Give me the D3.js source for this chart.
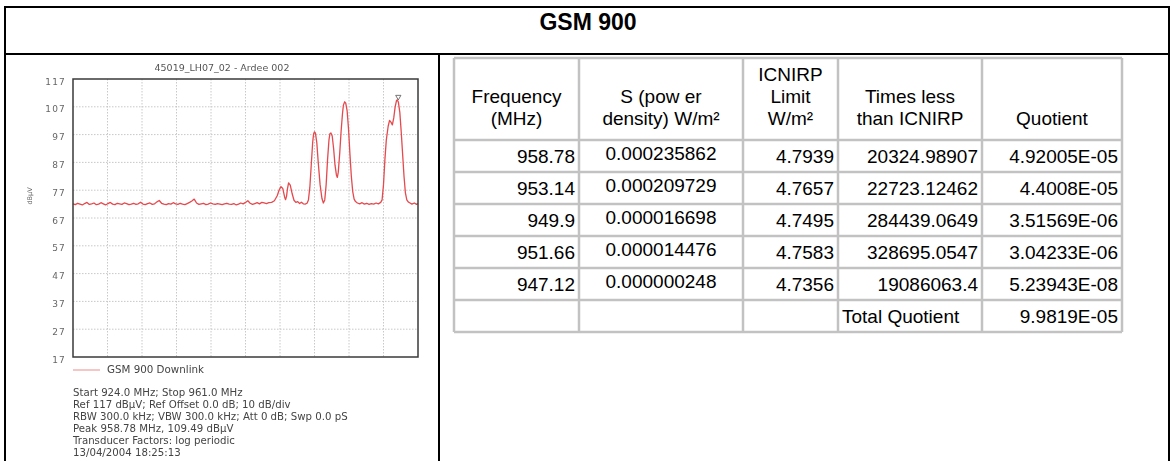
<!DOCTYPE html>
<html>
<head>
<meta charset="utf-8">
<script src="https://cdn.jsdelivr.net/npm/d3@7"></script>
<style>
  body { margin: 0; background: #fff; }
  svg { display: block; }
</style>
</head>
<body>
<svg id="chart" width="1171" height="461"></svg>
<script>
// ---- data ----
const pageTitle = "GSM 900";
const plotTitle = "45019_LH07_02 - Ardee 002";
const yTicks = [117, 107, 97, 87, 77, 67, 57, 47, 37, 27, 17];
const freqRange = [924.0, 961.0];
const legendLabel = "GSM 900 Downlink";
const infoLines = [
    "Start 924.0 MHz; Stop 961.0 MHz",
    "Ref 117 dBµV; Ref Offset 0.0 dB; 10 dB/div",
    "RBW 300.0 kHz; VBW 300.0 kHz; Att 0 dB; Swp 0.0 pS",
    "Peak 958.78 MHz, 109.49 dBµV",
    "Transducer Factors: log periodic",
    "13/04/2004 18:25:13"
];
const peakMarker = [958.78, 109.49];

// spectrum trace, [MHz, dBµV]
const trace = [
    [924.00,72.1],[924.25,71.8],[924.50,72.3],[924.75,72.0],[925.00,71.7],[925.25,72.2],[925.50,72.6],[925.75,71.9],
    [926.00,72.1],[926.25,72.4],[926.50,71.8],[926.75,72.0],[927.00,72.5],[927.25,72.1],[927.50,71.7],[927.75,72.2],
    [928.00,72.6],[928.25,72.0],[928.50,71.8],[928.75,72.3],[929.00,72.1],[929.25,71.9],[929.50,72.4],[929.75,72.2],
    [930.00,71.8],[930.25,72.0],[930.50,72.3],[930.75,71.9],[931.00,72.1],[931.25,72.7],[931.50,72.0],[931.75,71.8],
    [932.00,72.2],[932.25,72.4],[932.50,71.9],[932.75,72.1],[933.00,72.8],[933.25,73.3],[933.50,72.3],[933.75,72.0],
    [934.00,71.8],[934.25,72.2],[934.50,72.0],[934.75,72.5],[935.00,72.1],[935.25,71.9],[935.50,72.3],[935.75,72.0],
    [936.00,71.8],[936.25,72.2],[936.50,72.6],[936.75,73.1],[937.00,73.8],[937.25,72.4],[937.50,71.9],[937.75,72.1],
    [938.00,72.3],[938.25,71.8],[938.50,72.0],[938.75,72.4],[939.00,72.1],[939.25,71.9],[939.50,72.2],[939.75,72.0],
    [940.00,71.8],[940.25,72.1],[940.50,72.3],[940.75,72.0],[941.00,71.9],[941.25,72.2],[941.50,71.7],[941.75,72.0],
    [942.00,72.4],[942.25,72.1],[942.50,72.6],[942.75,73.2],[943.00,72.3],[943.25,71.9],[943.50,72.2],[943.75,72.5],
    [944.00,72.1],[944.25,72.6],[944.50,72.4],[944.75,72.2],[945.00,72.5],[945.30,72.6],[945.60,73.2],[945.90,75.0],
    [946.10,77.0],[946.30,78.3],[946.50,77.6],[946.70,74.5],[946.80,73.6],[946.90,74.8],[947.00,77.5],[947.12,79.6],
    [947.30,78.8],[947.50,75.8],[947.70,73.4],[947.90,72.6],[948.10,72.9],[948.30,72.2],[948.50,72.7],[948.70,72.1],
    [948.90,72.0],[949.10,72.3],[949.25,73.5],[949.40,78.0],[949.55,86.0],[949.70,94.0],[949.80,97.2],[949.90,98.0],
    [950.00,97.5],[950.15,94.0],[950.30,87.0],[950.50,79.0],[950.70,74.0],[950.85,72.4],[951.00,73.5],[951.15,79.0],
    [951.30,88.0],[951.45,95.0],[951.55,97.3],[951.66,97.6],[951.80,96.5],[951.95,92.0],[952.10,86.0],[952.25,82.5],
    [952.35,81.6],[952.45,83.5],[952.60,90.0],[952.75,98.0],[952.90,104.5],[953.00,107.6],[953.14,108.8],[953.25,108.3],
    [953.40,105.5],[953.55,99.0],[953.70,90.0],[953.85,82.0],[954.00,76.5],[954.15,73.8],[954.30,72.9],[954.50,72.4],
    [954.75,72.1],[955.00,72.5],[955.25,72.0],[955.50,72.3],[955.75,71.9],[956.00,72.2],[956.25,72.0],[956.50,72.4],
    [956.75,72.1],[957.00,72.6],[957.15,73.5],[957.30,79.0],[957.45,88.0],[957.60,95.0],[957.80,100.0],[957.95,102.1],
    [958.10,101.5],[958.25,100.5],[958.40,103.0],[958.55,107.0],[958.70,109.3],[958.78,109.49],[958.90,108.6],[959.05,105.0],
    [959.20,98.0],[959.35,90.0],[959.50,82.0],[959.65,76.0],[959.80,73.5],[959.95,72.8],[960.10,72.5],[960.35,72.0],
    [960.60,72.4],[960.85,71.9],[961.00,72.2]
];

// table
const headers = [
    ["Frequency", "(MHz)"],
    ["S (pow er", "density) W/m²"],
    ["ICNIRP", "Limit", "W/m²"],
    ["Times less", "than ICNIRP"],
    ["Quotient"]
];
const frequencies = ["958.78", "953.14", "949.9", "951.66", "947.12"];
const powerDensity = ["0.000235862", "0.000209729", "0.000016698", "0.000014476", "0.000000248"];
const icnirpLimit = ["4.7939", "4.7657", "4.7495", "4.7583", "4.7356"];
const timesLess = ["20324.98907", "22723.12462", "284439.0649", "328695.0547", "19086063.4"];
const quotients = ["4.92005E-05", "4.4008E-05", "3.51569E-06", "3.04233E-06", "5.23943E-08"];
const totalLabel = "Total Quotient";
const totalQuotient = "9.9819E-05";

// ---- drawing ----
const svg = d3.select("#chart");
const chartFont = "DejaVu Sans, Verdana, sans-serif";
const tableFont = "Liberation Sans, Arial, sans-serif";

// the spectrum is a scanned bitmap in the original, soften it a little
svg.append("defs").append("filter")
    .attr("id", "soft")
    .append("feGaussianBlur").attr("stdDeviation", 0.3);

// outer frame
svg.append("rect")
    .attr("x", 5).attr("y", 7)
    .attr("width", 1164).attr("height", 480)
    .attr("fill", "none").attr("stroke", "#000").attr("stroke-width", 2);
svg.append("line")
    .attr("x1", 5).attr("x2", 1169).attr("y1", 54).attr("y2", 54)
    .attr("stroke", "#000").attr("stroke-width", 2);
svg.append("line")
    .attr("x1", 439).attr("x2", 439).attr("y1", 54).attr("y2", 470)
    .attr("stroke", "#000").attr("stroke-width", 2);

svg.append("text")
    .attr("x", 588).attr("y", 30)
    .attr("text-anchor", "middle")
    .style("font-family", tableFont)
    .style("font-weight", "bold")
    .style("font-size", "23px")
    .text(pageTitle);

// spectrum plot
const plotLeft = 73, plotRight = 418, plotTop = 79, plotBottom = 357;
const x = d3.scaleLinear().domain(freqRange).range([plotLeft, plotRight]);
const y = d3.scaleLinear().domain([d3.min(yTicks), d3.max(yTicks)]).range([plotBottom, plotTop]);

const plot = svg.append("g").attr("filter", "url(#soft)");

plot.append("text")
    .attr("x", 222).attr("y", 71)
    .attr("text-anchor", "middle")
    .style("font-family", chartFont).style("font-size", "9.5px")
    .attr("fill", "#555")
    .text(plotTitle);

const xGrid = d3.range(1, 10).map(i => freqRange[0] + i * (freqRange[1] - freqRange[0]) / 10);

plot.append("g").selectAll("line")
    .data(yTicks.slice(1, -1))
    .join("line")
    .attr("x1", plotLeft).attr("x2", plotRight)
    .attr("y1", d => y(d)).attr("y2", d => y(d))
    .attr("stroke", "#c8c8c8").attr("stroke-dasharray", "1.5,1.5");

plot.append("g").selectAll("line")
    .data(xGrid)
    .join("line")
    .attr("x1", d => x(d)).attr("x2", d => x(d))
    .attr("y1", plotTop).attr("y2", plotBottom)
    .attr("stroke", "#c8c8c8").attr("stroke-dasharray", "1.5,1.5");

plot.append("g").selectAll("text")
    .data(yTicks)
    .join("text")
    .attr("x", 66)
    .attr("y", d => y(d) + 3)
    .attr("text-anchor", "end")
    .attr("dominant-baseline", "middle")
    .style("font-family", chartFont).style("font-size", "9px")
    .style("letter-spacing", "1.2px")
    .attr("fill", "#666")
    .text(d => d);

plot.append("text")
    .attr("transform", "translate(32,196) rotate(-90)")
    .attr("text-anchor", "middle")
    .style("font-family", chartFont).style("font-size", "6.5px")
    .attr("fill", "#666")
    .text("dBµV");

plot.append("path")
    .datum(trace)
    .attr("fill", "none")
    .attr("stroke", "#e54a4e")
    .attr("stroke-width", 1.3)
    .attr("stroke-linejoin", "round")
    .attr("d", d3.line().x(d => x(d[0])).y(d => y(d[1])));

plot.append("rect")
    .attr("x", plotLeft).attr("y", plotTop)
    .attr("width", plotRight - plotLeft).attr("height", plotBottom - plotTop)
    .attr("fill", "none").attr("stroke", "#3a3a3a").attr("stroke-width", 1.5);

plot.append("path")
    .attr("transform", `translate(${x(peakMarker[0]) + 1},${y(peakMarker[1]) - 3})rotate(180)`)
    .attr("d", d3.symbol(d3.symbolTriangle, 12)())
    .attr("fill", "none").attr("stroke", "#555").attr("stroke-width", 0.8);

// legend
plot.append("line")
    .attr("x1", plotLeft).attr("x2", 100).attr("y1", 370).attr("y2", 370)
    .attr("stroke", "#f0a0a0").attr("stroke-width", 1.2);
plot.append("text")
    .attr("x", 107).attr("y", 370)
    .attr("dominant-baseline", "middle")
    .style("font-family", chartFont).style("font-size", "10.3px")
    .attr("fill", "#444")
    .text(legendLabel);

plot.append("g").selectAll("text")
    .data(infoLines)
    .join("text")
    .attr("x", plotLeft)
    .attr("y", (d, i) => 393 + i * 12)
    .attr("dominant-baseline", "middle")
    .style("font-family", chartFont).style("font-size", "10.2px")
    .attr("fill", "#444")
    .text(d => d);

// table
const colEdges = [454, 579, 743, 838, 982, 1122];
const tableTop = 58, headerBottom = 140, rowH = 32;
const rows = frequencies.map((f, i) => [f, powerDensity[i], icnirpLimit[i], timesLess[i], quotients[i]]);
rows.push(["", "", "", totalLabel, totalQuotient]);
const rowEdges = [tableTop, headerBottom].concat(rows.map((r, i) => headerBottom + (i + 1) * rowH));

const table = svg.append("g");
table.append("g").selectAll("line")
    .data(rowEdges)
    .join("line")
    .attr("x1", colEdges[0]).attr("x2", colEdges[colEdges.length - 1])
    .attr("y1", d => d).attr("y2", d => d)
    .attr("stroke", "#c2c2c2").attr("stroke-width", 2.5);
table.append("g").selectAll("line")
    .data(colEdges)
    .join("line")
    .attr("x1", d => d).attr("x2", d => d)
    .attr("y1", tableTop).attr("y2", rowEdges[rowEdges.length - 1])
    .attr("stroke", "#c2c2c2").attr("stroke-width", 2.5);

const textStyle = sel => sel.style("font-family", tableFont).style("font-size", "19px").attr("fill", "#000");

headers.forEach((lines, c) => {
    const cx = (colEdges[c] + colEdges[c + 1]) / 2;
    lines.forEach((t, j) => {
        table.append("text")
            .attr("x", cx)
            .attr("y", 125 - (lines.length - 1 - j) * 22)
            .attr("text-anchor", "middle")
            .call(textStyle)
            .text(t);
    });
});

rows.forEach((r, i) => {
    const rowTop = headerBottom + i * rowH;
    r.forEach((t, c) => {
        if (!t) return;
        const centered = c === 1;
        const leftAligned = t === totalLabel;
        table.append("text")
            .attr("x", centered ? (colEdges[c] + colEdges[c + 1]) / 2 : leftAligned ? colEdges[c] + 4 : colEdges[c + 1] - 4)
            .attr("y", rowTop + (centered ? 20 : 23))
            .attr("text-anchor", centered ? "middle" : leftAligned ? "start" : "end")
            .call(textStyle)
            .text(t);
    });
});
</script>
</body>
</html>
